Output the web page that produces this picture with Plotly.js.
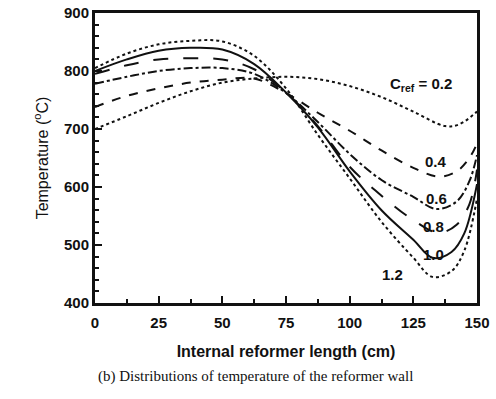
<!DOCTYPE html>
<html><head><meta charset="utf-8">
<script src="https://cdn.plot.ly/plotly-3.0.1.min.js"></script>
<style>body{margin:0;background:#fff}#c{width:496px;height:399px}</style>
</head><body><div id="c"></div>
<script>
// Data
const x02 = [0,12.5,25,37.5,50,62.5,75,87.5,100,112.5,125,137.5,143,150];
const y02 = [700,722,745,765,780,787,790,786,774,755,730,705,708,730];
const x04 = [0,12.5,25,37.5,50,62.5,75,87.5,100,112.5,125,135,142,147,150];
const y04 = [738,757,770,780,785,787,762,728,697,663,633,618,627,650,675];
const x06 = [0,12.5,25,37.5,50,62.5,75,87.5,100,112.5,125,134,142,147,150];
const y06 = [778,790,800,805,805,795,762,712,657,612,583,562,575,610,655];
const x08 = [0,12.5,25,37.5,50,62.5,75,87.5,100,112.5,125,135,142,147,150];
const y08 = [795,810,820,822,820,803,763,705,635,585,543,521,535,570,630];
const x10 = [0,12.5,25,37.5,50,62.5,75,87.5,100,112.5,125,132.5,140,145,150];
const y10 = [800,820,835,840,837,812,763,703,627,560,509,478,488,520,605];
const x12 = [0,12.5,25,37.5,50,62.5,75,87.5,100,112.5,125,132.5,140,145,150];
const y12 = [805,830,846,852,851,826,770,690,615,540,478,445,455,490,580];

const labels = ["C<sub>ref</sub> = 0.2","0.4","0.6","0.8","1.0","1.2"];
const labelX = [128,134,134,133,133,117];
const labelY = [776,644,581,532,483,449];

const mk = (x,y,dash)=>({x:x,y:y,type:'scatter',mode:'lines',
  line:{color:'#111',width:2,dash:dash,shape:'spline',smoothing:1},showlegend:false,hoverinfo:'skip'});
const data = [
  mk(x02,y02,'dot'), mk(x04,y04,'dash'), mk(x06,y06,'dashdot'),
  mk(x08,y08,'longdash'), mk(x10,y10,'solid'), mk(x12,y12,'dot')
];

const ann = labels.map((t,i)=>({x:labelX[i],y:labelY[i],xref:'x',yref:'y',text:'<b>'+t+'</b>',
  showarrow:false,font:{family:'Liberation Sans, Arial',size:15,color:'#111'}}));
ann.push({xref:'paper',yref:'paper',x:0.42,y:-0.255,xanchor:'center',yanchor:'middle',showarrow:false,
  text:'(b) Distributions of temperature of the reformer wall',
  font:{family:'Liberation Serif, Times New Roman',size:15,color:'#111'}});

const axFont = {family:'Liberation Sans, Arial',size:15,color:'#111',weight:'bold'};
const layout = {
  width:496,height:399,margin:{l:95,r:19,t:13,b:96},
  paper_bgcolor:'#fff',plot_bgcolor:'#fff',
  xaxis:{range:[0,150],tickvals:[0,25,50,75,100,125,150],ticks:'inside',ticklen:7,tickwidth:2,tickcolor:'#111',
    minor:{dtick:12.5,tick0:0,ticks:'inside',ticklen:4,tickwidth:2,tickcolor:'#111'},
    showline:true,mirror:true,linewidth:3,linecolor:'#111',showgrid:false,zeroline:false,
    tickfont:axFont,ticklabelstandoff:4,
    title:{text:'<b>Internal reformer length (cm)</b>',font:{family:'Liberation Sans, Arial',size:16,color:'#111'},standoff:16}},
  yaxis:{range:[400,900],tickvals:[400,500,600,700,800,900],ticks:'inside',ticklen:7,tickwidth:2,tickcolor:'#111',
    minor:{dtick:20,tick0:400,ticks:'inside',ticklen:4,tickwidth:2,tickcolor:'#111'},
    showline:true,mirror:true,linewidth:3,linecolor:'#111',showgrid:false,zeroline:false,
    tickfont:axFont,
    title:{text:'Temperature (<sup>o</sup>C)',font:{family:'Liberation Sans, Arial',size:16,color:'#111'},standoff:12}},
  annotations:ann
};
Plotly.newPlot('c',data,layout,{staticPlot:true});
</script></body></html>
